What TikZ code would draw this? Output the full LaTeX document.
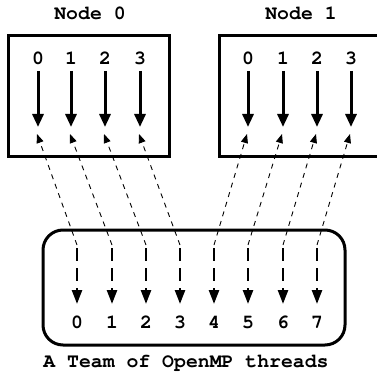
\documentclass[tikz,border=0pt]{standalone}
\usepackage{fontspec}
\newfontfamily\cur{TeX Gyre Cursor}
\usetikzlibrary{arrows.meta}
\begin{document}
\begin{tikzpicture}[x=1pt,y=-1pt,
  lbl/.style={font=\cur\bfseries\fontsize{19.8}{20}\selectfont, inner sep=0pt, anchor=base},
  box/.style={draw, line width=3pt, inner sep=0pt},
  thr/.style={line width=3pt, -{Triangle[length=13pt,width=11pt]}},
  tthr/.style={line width=2.5pt, dash pattern=on 13pt off 7pt, -{Triangle[length=14pt,width=10pt]}},
  map/.style={line width=0.9pt, dash pattern=on 5pt off 5pt, -{Triangle[length=9pt,width=7pt]}}]
\useasboundingbox (0,0) rectangle (377,374);
\begin{scope}
\clip (0,0) rectangle (377,374);
% boxes
\node[box, minimum width=161pt, minimum height=121pt] (n0box) at (88.5,96.5) {};
\node[box, minimum width=160pt, minimum height=121pt] (n1box) at (299.5,96.5) {};
\end{scope}
\node[box, rounded corners=20pt, minimum width=302pt, minimum height=115pt] (team) at (194,287.5) {};
% titles
\node[lbl] (t0) at (90,20) {Node 0};
\node[lbl] (t1) at (301,20) {Node 1};
\node[lbl] (tt) at (186,367) {A Team of OpenMP threads};
% node threads
\foreach \i/\x in {0/38,1/71,2/105,3/140}{
  \node[lbl] (a\i) at (\x,65) {\i};
  \coordinate (a\i s) at (\x,71);
  \coordinate (a\i e) at (\x,127);
  \coordinate (a\i m) at (\x-1,134);
  \draw[thr] (a\i s) -- (a\i e);
}
\foreach \i/\x in {0/248,1/283,2/317,3/351}{
  \node[lbl] (b\i) at (\x,65) {\i};
  \coordinate (b\i s) at (\x,71);
  \coordinate (b\i e) at (\x,127);
  \coordinate (b\i m) at (\x-1,134);
  \draw[thr] (b\i s) -- (b\i e);
}
% team threads
\foreach \i/\x in {0/77,1/112,2/146,3/180,4/214,5/248,6/283,7/317}{
  \node[lbl] (c\i) at (\x,328) {\i};
  \coordinate (c\i s) at (\x,248);
  \coordinate (c\i e) at (\x,304);
  \coordinate (c\i d) at (\x,245);
  \draw[tthr] (c\i s) -- (c\i e);
}
% mapping
\foreach \i in {0,1,2,3}{
  \draw[map] (c\i d) -- (a\i m);
}
\foreach \i/\j in {4/0,5/1,6/2,7/3}{
  \draw[map] (c\i d) -- (b\j m);
}
\end{tikzpicture}
\end{document}
